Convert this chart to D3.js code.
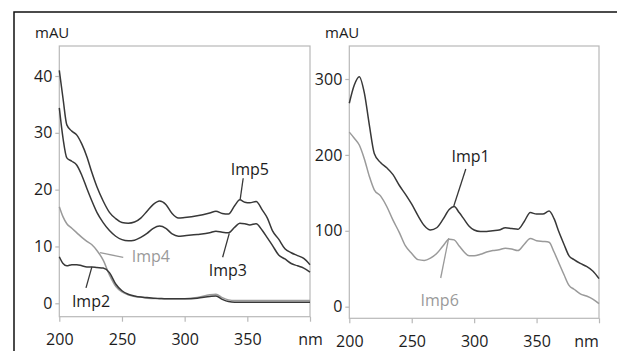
<!DOCTYPE html>
<html>
<head>
<meta charset="utf-8">
<script src="https://cdn.jsdelivr.net/npm/d3@7"></script>
<style>
  html, body { margin: 0; padding: 0; background: #fff; }
  svg { display: block; font-family: "Open Sans", "DejaVu Sans", sans-serif; }
</style>
</head>
<body>
<svg id="chart" width="617" height="351"></svg>
<script>
// ---- Left panel: impurities 2-5 (mAU vs nm) ----
const wlLeft = [200,203,206,210,214,218,222,226,230,235,240,245,250,255,260,265,270,275,280,285,290,295,300,310,320,325,330,335,340,344,348,352,357,362,366,370,375,380,385,390,395,400];
const imp5 = [41,36,31.4,30.3,29.6,28,25.8,23,20.5,18,16,14.9,14.2,14.1,14.3,15,16.2,17.4,18,17.4,15.8,15,15.1,15.4,15.9,16.2,15.8,15.7,17.2,18.2,17.8,17.7,17.9,16.4,15,12.8,11.3,9.6,8.9,8.4,7.9,6.8];
const imp3 = [34.4,29,25.6,25,24.3,22.5,20.2,18,16,14.2,12.8,11.8,11.2,11.0,11.1,11.6,12.3,13.2,13.6,13.2,12.2,11.8,11.9,12.1,12.4,12.7,12.5,12.4,13.4,14.1,14.0,13.8,14.0,12.8,11.5,10.2,8.5,7.8,7.0,6.6,6.2,5.5];
const imp4 = [17,15.2,14,13.2,12.4,11.6,10.9,10.3,9.3,7.6,5.0,3.0,2.0,1.5,1.2,1.1,0.9,0.85,0.8,0.8,0.8,0.8,0.8,1.0,1.5,1.6,1.0,0.6,0.5,0.5,0.5,0.5,0.5,0.5,0.5,0.5,0.5,0.5,0.5,0.5,0.5,0.5];
const imp2 = [8.2,7.0,6.6,6.8,6.8,6.6,6.4,6.4,6.3,6.2,5.4,3.4,2.2,1.6,1.3,1.1,1.0,0.9,0.85,0.8,0.8,0.8,0.8,0.9,1.2,1.3,0.7,0.3,0.2,0.2,0.2,0.2,0.2,0.2,0.2,0.2,0.2,0.2,0.2,0.2,0.2,0.2];
const yTicksLeft = [0,10,20,30,40];

// ---- Right panel: impurities 1 and 6 ----
const wlRight = [200,204,208,212,216,220,225,230,235,240,245,250,255,260,265,270,275,280,284,288,292,296,300,305,310,315,320,325,330,335,340,345,350,355,360,364,368,372,376,380,385,390,395,400];
const imp1 = [268,292,303,282,240,202,190,183,174,160,148,135,120,107,101,104,115,128,132,124,115,106,101,99,99,100,101,104,103,102,112,124,122,122,126,116,98,82,67,62,57,53,47,37];
const imp6 = [230,222,213,195,172,154,146,132,114,98,80,70,62,61,64,70,80,89,88,80,72,67,67,69,72,74,75,77,76,74,82,90,87,86,85,72,57,42,28,23,17,14,10,4];
const yTicksRight = [0,100,200,300];

const xTicks = [200,250,300,350,400];

const DARK = "#383838", LIGHT = "#9a9a9a", AXIS = "#b8b8b8";
const FONT = "16px";

const svg = d3.select("#chart");

// outer frame (top and left edges)
svg.append("path")
  .attr("d", "M14,351 L14,12 L617,12")
  .attr("fill", "none").attr("stroke", "#111").attr("stroke-width", 1.5);

function panel(cfg) {
  const x = d3.scaleLinear().domain([200, 400]).range([cfg.left, cfg.right]);
  const y = d3.scaleLinear().domain(cfg.yDomain).range([cfg.bottom, cfg.top]);
  const g = svg.append("g");

  // plot box
  g.append("rect")
    .attr("x", x(200)).attr("y", y(cfg.yDomain[1]))
    .attr("width", x(400) - x(200)).attr("height", y(cfg.yDomain[0]) - y(cfg.yDomain[1]))
    .attr("fill", "none").attr("stroke", AXIS).attr("stroke-width", 1.2);

  const ya = g.append("g").attr("transform", `translate(${x(200)},0)`)
    .call(d3.axisLeft(y).tickValues(cfg.yTicks).tickSize(4).tickPadding(3));
  const xa = g.append("g").attr("transform", `translate(0,${y(cfg.yDomain[0])})`)
    .call(d3.axisBottom(x).tickValues(xTicks).tickSize(5).tickPadding(12)
      .tickFormat(d => d === 400 ? "nm" : d));
  [ya, xa].forEach(a => {
    a.select(".domain").remove();
    a.selectAll("line").attr("stroke", AXIS).attr("stroke-width", 1.2);
    a.selectAll("text").attr("fill", "#1c1c1c").style("font-size", FONT)
      .style("font-family", "'Open Sans', sans-serif");
  });
  if (cfg.nmShift) {
    xa.selectAll(".tick").filter(d => d === 400).select("text").attr("dx", cfg.nmShift);
  }

  // unit label
  g.append("text").attr("x", cfg.unitX).attr("y", 38)
    .attr("fill", "#1c1c1c").style("font-size", "15px").text("mAU");

  const line = d3.line().curve(d3.curveMonotoneX)
    .x(d => x(d[0])).y(d => y(d[1]));

  cfg.series.forEach(s => {
    g.append("path")
      .datum(cfg.wl.map((w, i) => [w, s.values[i]]))
      .attr("d", line)
      .attr("fill", "none").attr("stroke", s.color)
      .attr("stroke-width", 1.5).attr("stroke-linejoin", "round");
  });

  // callouts: label text plus a leader line to its curve
  cfg.notes.forEach(n => {
    g.append("line")
      .attr("x1", x(n.from[0])).attr("y1", y(n.from[1]))
      .attr("x2", x(n.to[0])).attr("y2", y(n.to[1]))
      .attr("stroke", n.color).attr("stroke-width", 1.3);
    g.append("text")
      .attr("x", x(n.at[0])).attr("y", y(n.at[1]))
      .attr("text-anchor", "middle")
      .attr("fill", n.color === DARK ? "#1c1c1c" : n.color).style("font-size", FONT)
      .text(n.name);
  });
}

panel({
  left: 59.3, right: 310, top: 46, bottom: 316.7,
  yDomain: [-2.36, 45.28], yTicks: yTicksLeft, unitX: 35,
  wl: wlLeft,
  series: [
    { values: imp4, color: LIGHT },
    { values: imp2, color: DARK },
    { values: imp3, color: DARK },
    { values: imp5, color: DARK }
  ],
  notes: [
    { name: "Imp5", color: DARK, at: [352, 22.6], from: [346.7, 22.0], to: [344.3, 18.3] },
    { name: "Imp3", color: DARK, at: [334.5, 4.8], from: [335.6, 12.3], to: [330.3, 8.1] },
    { name: "Imp4", color: LIGHT, at: [273, 7.3], from: [232.5, 8.9], to: [251, 8.1] },
    { name: "Imp2", color: DARK, at: [225.3, -0.65], from: [226, 6.4], to: [221.3, 2.7] }
  ]
});

panel({
  left: 349.3, right: 599, top: 46, bottom: 318.3,
  yDomain: [-15.3, 343.5], yTicks: yTicksRight, unitX: 325, nmShift: -13,
  wl: wlRight,
  series: [
    { values: imp6, color: LIGHT },
    { values: imp1, color: DARK }
  ],
  notes: [
    { name: "Imp1", color: DARK, at: [297.2, 190.6], from: [293.3, 181.4], to: [283.7, 132.7] },
    { name: "Imp6", color: LIGHT, at: [272.4, 1], from: [279.6, 90.5], to: [273.2, 37.8] }
  ]
});
</script>
</body>
</html>
